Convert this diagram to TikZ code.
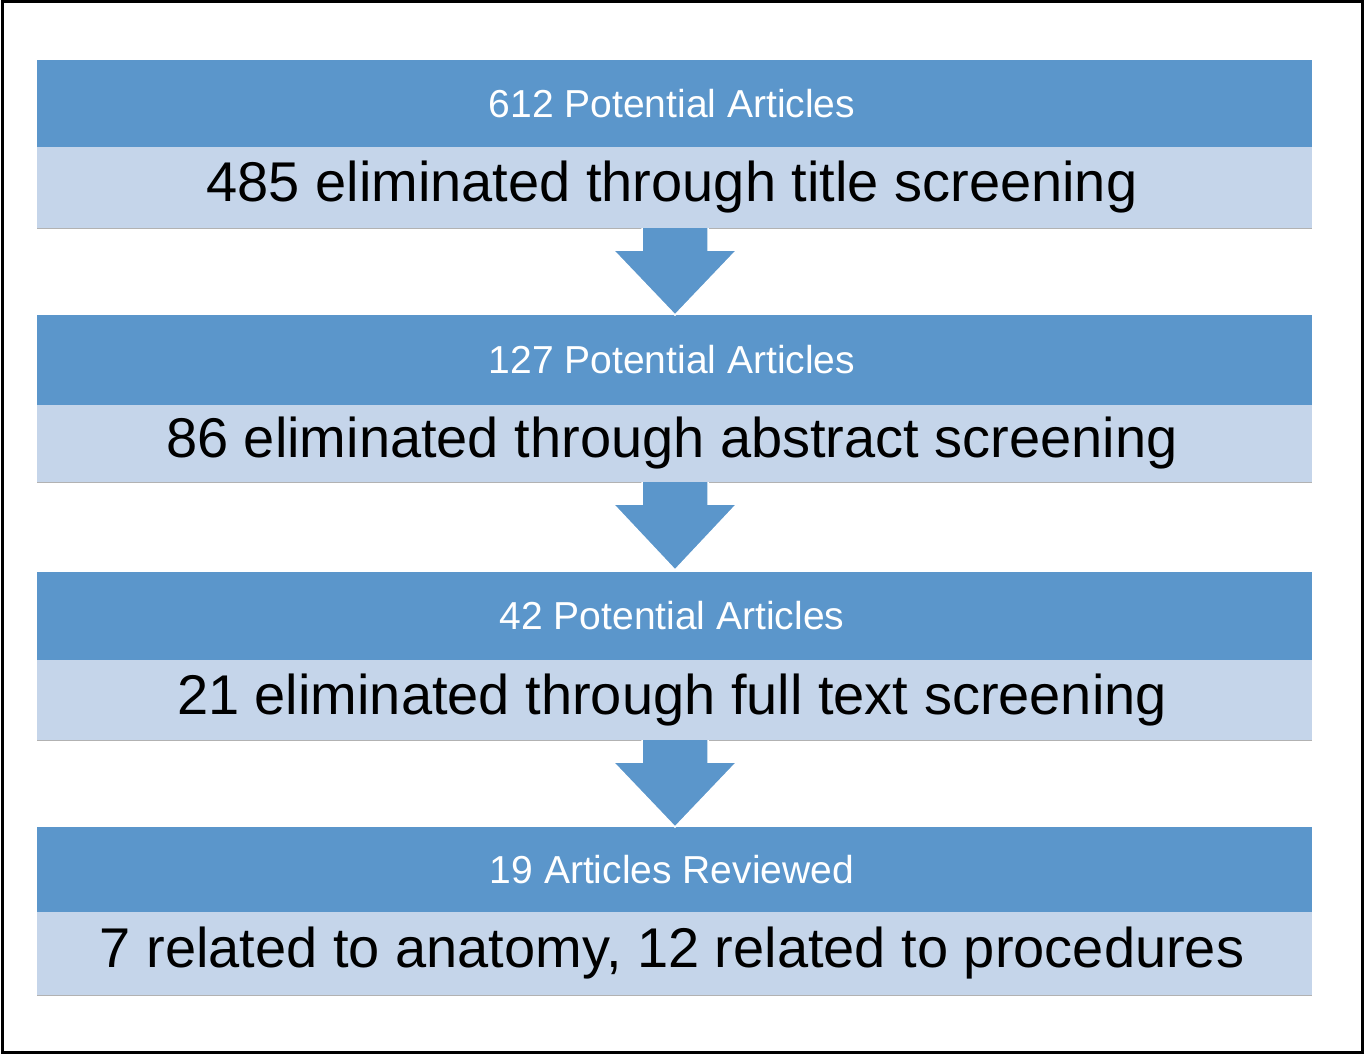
\documentclass[tikz,border=0pt]{standalone}
\usepackage{fontspec}
\setmainfont{Liberation Sans}
\begin{document}
\begin{tikzpicture}[x=1pt,y=-1pt,
  dark/.style={fill={rgb,255:red,91;green,150;blue,203}, draw=none},
  light/.style={fill={rgb,255:red,197;green,213;blue,234}, draw=none},
  head/.style={text=white, font=\fontsize{39}{44}\selectfont, inner sep=0},
  body/.style={text=black, font=\fontsize{56}{62}\selectfont, inner sep=0},
  arr/.style={fill={rgb,255:red,91;green,150;blue,203}, draw=white, line width=1.5pt}]
\useasboundingbox (0,0) rectangle (1364,1054);
\draw[line width=3pt] (2,2) rectangle (1362,1052);
\foreach \i/\a/\b/\c/\h/\t in {1/60/147/228/612 Potential Articles/485 eliminated through title screening,
  2/315/405/482/127 Potential Articles/86 eliminated through abstract screening,
  3/572/660/740/42 Potential Articles/21 eliminated through full text screening,
  4/827/912/995/19 Articles Reviewed/{7 related to anatomy, 12 related to procedures}}{
  \fill[dark] (37,\a) rectangle (1312,\b);
  \fill[light] (37,\b) rectangle (1312,\c);
  \draw[gray!60, line width=1pt] (37,\c) -- (1312,\c);
  \node[head] (h\i) at (672,{(\a+\b)/2}) {\h};
  \node[body] (b\i) at (672,{(\b+\c)/2}) {\t};
}
\foreach \s/\e in {228/315,482/570,740/827}{
  \filldraw[arr] (642,\s) -- (642,{\s+22}) -- (613,{\s+22}) -- (675,\e) -- (737,{\s+22}) -- (708,{\s+22}) -- (708,\s);
}
\end{tikzpicture}
\end{document}
